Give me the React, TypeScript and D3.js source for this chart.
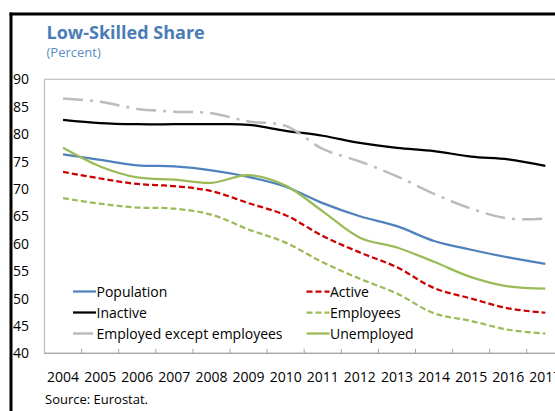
import React, { useEffect, useRef } from 'react';
import * as d3 from 'd3';

const years = ['2004', '2005', '2006', '2007', '2008', '2009', '2010', '2011', '2012', '2013', '2014', '2015', '2016', '2017'];

const population = [76.3, 75.3, 74.3, 74.1, 73.4, 72.2, 70.4, 67.4, 65.0, 63.2, 60.5, 58.9, 57.5, 56.3];
const active = [73.1, 71.9, 70.9, 70.5, 69.6, 67.4, 65.2, 61.4, 58.4, 55.7, 51.9, 50.0, 48.2, 47.4];
const inactive = [82.6, 82.0, 81.8, 81.8, 81.8, 81.7, 80.6, 79.7, 78.4, 77.5, 76.9, 75.9, 75.4, 74.2];
const employees = [68.3, 67.3, 66.6, 66.4, 65.3, 62.6, 60.2, 56.6, 53.6, 50.9, 47.3, 45.9, 44.3, 43.6];
const employedExcept = [86.5, 85.9, 84.6, 84.1, 83.8, 82.3, 81.5, 77.3, 75.0, 72.3, 69.1, 66.4, 64.6, 64.6];
const unemployed = [77.5, 74.1, 72.1, 71.7, 71.1, 72.5, 70.6, 65.9, 61.1, 59.3, 56.7, 53.9, 52.2, 51.8];

const yTicks = [40, 45, 50, 55, 60, 65, 70, 75, 80, 85, 90];

const series = [
  { name: 'Population', values: population, color: '#4f81bd', dash: null, width: 2.25, col: 0, row: 0 },
  { name: 'Active', values: active, color: '#cc0000', dash: '6,3', width: 2.25, col: 1, row: 0 },
  { name: 'Inactive', values: inactive, color: '#000000', dash: null, width: 2.25, col: 0, row: 1 },
  { name: 'Employees', values: employees, color: '#9bbb59', dash: '6,3', width: 2.25, col: 1, row: 1 },
  { name: 'Employed except employees', values: employedExcept, color: '#bcbcbc', dash: '20,7,3,7', width: 2.5, col: 0, row: 2 },
  { name: 'Unemployed', values: unemployed, color: '#9bbb59', dash: null, width: 2.25, col: 1, row: 2 },
];

const FONT = '"Open Sans", "Noto Sans", sans-serif';

const LowSkilledChart: React.FC = () => {
  const svgRef = useRef<SVGSVGElement>(null);

  useEffect(() => {
    if (!svgRef.current) return;
    const svg = d3.select(svgRef.current);
    svg.selectAll('*').remove();

    const width = 555;
    const height = 411;
    const left = 44.5;
    const top = 79.3;
    const bottom = 353.3;
    const band = 37.1;

    const x = d3.scaleBand<string>()
      .domain(years)
      .range([left, left + band * years.length])
      .padding(0);
    const y = d3.scaleLinear().domain([40, 90]).range([bottom, top]);
    const cx = (d: string) => (x(d) as number) + x.bandwidth() / 2;

    svg.attr('width', width).attr('height', height).style('font-family', FONT);

    // outer frame
    svg.append('line').attr('x1', 11).attr('x2', 11).attr('y1', 12.5).attr('y2', height)
      .attr('stroke', '#000').attr('stroke-width', 3);
    svg.append('line').attr('x1', 9.5).attr('x2', width).attr('y1', 14).attr('y2', 14)
      .attr('stroke', '#000').attr('stroke-width', 3);

    // title
    svg.append('text').attr('x', 46.5).attr('y', 38.5)
      .attr('font-size', 18).attr('font-weight', 700).attr('fill', '#4a7db6')
      .text('Low-Skilled Share');
    svg.append('text').attr('x', 46.5).attr('y', 56.5)
      .attr('font-size', 13).attr('fill', '#5b8cc4')
      .text('(Percent)');

    // plot box
    svg.append('rect').attr('x', left).attr('y', top)
      .attr('width', band * years.length).attr('height', bottom - top)
      .attr('fill', 'none').attr('stroke', '#bfbfbf').attr('stroke-width', 1.2);
    svg.append('line').attr('x1', left).attr('x2', left + band * years.length)
      .attr('y1', bottom).attr('y2', bottom).attr('stroke', '#a6a6a6').attr('stroke-width', 1.2);

    // ticks between categories
    svg.append('g').selectAll('line').data(years.slice(1)).join('line')
      .attr('x1', d => x(d) as number).attr('x2', d => x(d) as number)
      .attr('y1', bottom).attr('y2', bottom - 4.5)
      .attr('stroke', '#a6a6a6').attr('stroke-width', 1);

    // y labels
    svg.append('g').selectAll('text').data(yTicks).join('text')
      .attr('x', 13).attr('y', d => y(d) + 5)
      .attr('font-size', 14).attr('fill', '#000')
      .text(d => String(d));

    // x labels
    svg.append('g').selectAll('text').data(years).join('text')
      .attr('x', d => cx(d)).attr('y', 382)
      .attr('text-anchor', 'middle').attr('font-size', 14).attr('fill', '#000')
      .text(d => d);

    // source
    svg.append('text').attr('x', 45).attr('y', 403.5)
      .attr('font-size', 13).attr('fill', '#000')
      .text('Source: Eurostat.');

    // lines
    const line = d3.line<number>()
      .x((_, i) => cx(years[i]))
      .y(d => y(d))
      .curve(d3.curveCatmullRom.alpha(0.5));

    series.forEach(s => {
      svg.append('path')
        .datum(s.values)
        .attr('d', line)
        .attr('fill', 'none')
        .attr('stroke', s.color)
        .attr('stroke-width', s.width)
        .attr('stroke-dasharray', s.dash)
        .attr('stroke-linejoin', 'round');
    });

    // legend
    const colX = [73, 306.5];
    const rowY = [291.5, 312.5, 333.5];
    series.forEach(s => {
      const lx = colX[s.col];
      const ly = rowY[s.row];
      svg.append('line')
        .attr('x1', lx).attr('x2', lx + 23).attr('y1', ly).attr('y2', ly)
        .attr('stroke', s.color).attr('stroke-width', s.width)
        .attr('stroke-dasharray', s.dash);
      svg.append('text')
        .attr('x', lx + 23.5).attr('y', ly + 5)
        .attr('font-size', 14).attr('fill', '#000')
        .text(s.name);
    });
  }, []);

  return (
    <div style={{ position: 'absolute', left: 0, top: 0 }}>
      <svg ref={svgRef} style={{ display: 'block' }}></svg>
    </div>
  );
};

export default function App() {
  return <LowSkilledChart />;
}
